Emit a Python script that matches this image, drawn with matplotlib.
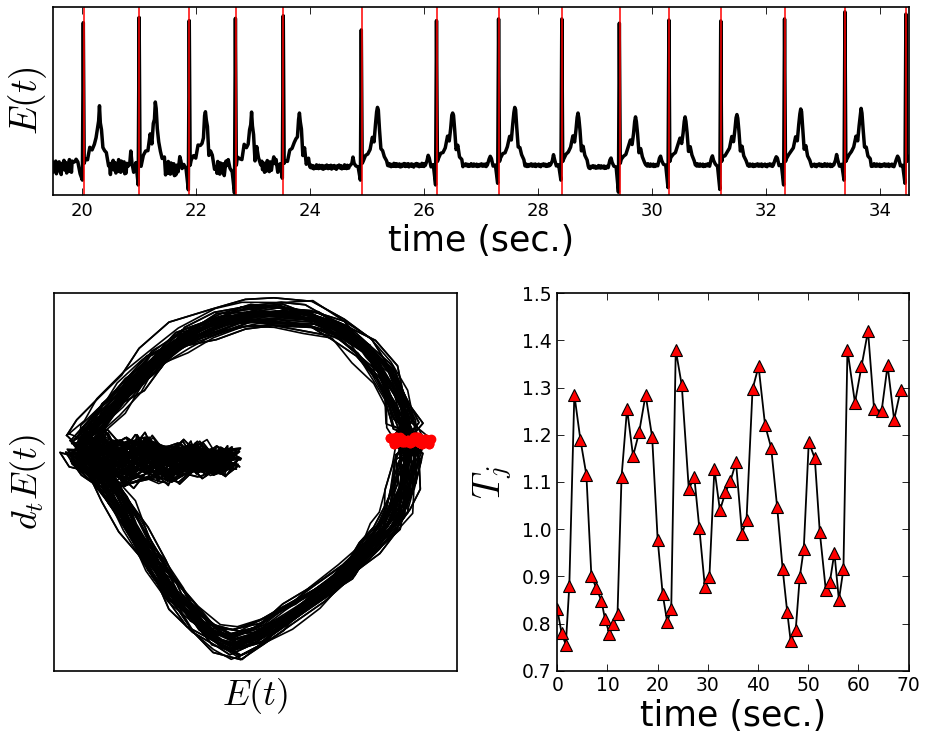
# ECG trace with detected R-peaks, phase portrait and beat intervals
import numpy as np
import matplotlib
matplotlib.use("Agg")
import matplotlib.pyplot as plt

plt.rcParams['mathtext.fontset'] = 'cm'
plt.rcParams['font.family'] = 'DejaVu Sans'

# ---- top panel: beats ----
beat_times = [20.02, 21.00, 21.88, 22.69, 23.53, 24.90, 26.22, 27.31,
              28.42, 29.43, 30.30, 31.21, 32.33, 33.39, 34.46]
r_peak = [0.915, 0.943, 0.926, 0.938, 0.952, 0.876, 0.926, 0.935,
          0.935, 0.912, 0.929, 0.924, 0.935, 0.973, 0.961]
t_peak = [0.437, 0.469, 0.425, 0.407, 0.416, 0.464, 0.439, 0.465,
          0.430, 0.407, 0.407, 0.425, 0.455, 0.451, 0.440]
q_dip = [0.07, 0.044, 0.018, 0.0, 0.08, 0.07, 0.044, 0.053,
         0.07, 0.005, 0.03, 0.02, 0.044, 0.07, 0.053]
base = [0.14, 0.14, 0.13, 0.13, 0.14, 0.14, 0.15, 0.15,
        0.15, 0.14, 0.15, 0.15, 0.15, 0.15, 0.15]
noise_amp = [0.04, 0.04, 0.04, 0.04, 0.035, 0.012, 0.01, 0.008,
             0.008, 0.008, 0.008, 0.008, 0.008, 0.008, 0.008]
noise = [0.3, -0.8, 0.5, 0.1, -0.4, 0.9, -0.2, -0.7, 0.6, 0.0, -0.5, 0.8,
         -0.9, 0.2, 0.4, -0.3, 0.7, -0.6, 0.1, -1.0, 0.5, 0.3, -0.2, 0.9,
         -0.4, -0.1, 0.6, -0.8, 0.2, 0.0, -0.6, 1.0, -0.3, 0.4, -0.7, 0.8,
         -0.1, -0.5, 0.3, 0.7, -0.9]

# ---- bottom right: beat intervals ----
tj_time = [0.0, 0.86, 1.7, 2.4, 3.4, 4.6, 5.8, 6.8, 7.8, 8.8, 9.5, 10.4,
           11.2, 12.0, 12.8, 13.9, 15.1, 16.3, 17.6, 18.9, 20.0, 21.0,
           21.9, 22.7, 23.6, 24.8, 26.2, 27.3, 28.3, 29.4, 30.3, 31.3,
           32.4, 33.5, 34.5, 35.6, 36.8, 37.7, 38.9, 40.1, 41.4, 42.6,
           43.8, 44.9, 45.8, 46.5, 47.5, 48.3, 49.1, 50.1, 51.3, 52.3,
           53.5, 54.3, 55.2, 56.1, 57.0, 57.8, 59.3, 60.6, 61.9, 63.1,
           64.6, 65.8, 67.1, 68.4]
tj_val = [0.83, 0.78, 0.755, 0.88, 1.285, 1.19, 1.115, 0.90, 0.875, 0.848,
          0.81, 0.778, 0.80, 0.82, 1.11, 1.255, 1.155, 1.205, 1.285, 1.195,
          0.978, 0.862, 0.803, 0.83, 1.38, 1.305, 1.085, 1.11, 1.002, 0.878,
          0.898, 1.128, 1.04, 1.078, 1.102, 1.142, 0.99, 1.02, 1.297, 1.345,
          1.22, 1.173, 1.047, 0.915, 0.825, 0.762, 0.787, 0.898, 0.958,
          1.185, 1.15, 0.993, 0.87, 0.888, 0.95, 0.85, 0.915, 1.38, 1.268,
          1.345, 1.42, 1.255, 1.25, 1.347, 1.232, 1.295]

# ---- bottom left: band centre line of the phase loop ----
loop_x = [0.075, 0.10, 0.14, 0.19, 0.25, 0.32, 0.40, 0.48, 0.56, 0.64,
          0.71, 0.77, 0.82, 0.852, 0.872, 0.885, 0.878, 0.868, 0.852, 0.825,
          0.785, 0.73, 0.66, 0.58, 0.51, 0.45, 0.40, 0.35, 0.30, 0.25,
          0.20, 0.16, 0.12, 0.085, 0.065]
loop_y = [0.60, 0.645, 0.695, 0.755, 0.822, 0.878, 0.918, 0.940, 0.945,
          0.934, 0.903, 0.855, 0.79, 0.715, 0.655, 0.61, 0.56, 0.49, 0.43,
          0.38, 0.33, 0.265, 0.205, 0.145, 0.098, 0.072, 0.092, 0.14, 0.20,
          0.28, 0.37, 0.45, 0.51, 0.54, 0.57]
r_index = 15
tail_x = [0.12, 0.17, 0.22, 0.27, 0.32, 0.37, 0.41, 0.445, 0.41, 0.36,
          0.30, 0.24, 0.18, 0.12]
tail_y = [0.56, 0.55, 0.57, 0.545, 0.565, 0.55, 0.56, 0.565, 0.55, 0.57,
          0.545, 0.565, 0.55, 0.57]

# build the ECG trace
t_pts, e_pts = [], []
k = 0
def add(t, v, amp):
    global k
    t_pts.append(t)
    e_pts.append(v + amp * noise[k % len(noise)])
    k += 1

p_off = [-0.20, -0.17, -0.15, -0.13, -0.10, -0.06]
p_val = [0.0, 0.03, 0.05, 0.03, 0.0, 0.0]
st_off = [0.03, 0.07, 0.11, 0.15, 0.19, 0.22, 0.245, 0.265, 0.28, 0.295,
          0.315, 0.34, 0.37, 0.40, 0.44]
for j, tb in enumerate(beat_times):
    b, a = base[j], noise_amp[j]
    start = beat_times[j - 1] + 0.46 if j > 0 else 19.40
    for tt in np.arange(start, tb - 0.21, 0.012):
        add(tt, b, a)
    for o, v in zip(p_off, p_val):
        add(tb + o, b + v, a)
    add(tb - 0.02, q_dip[j], 0)
    add(tb - 0.004, r_peak[j], 0)
    add(tb + 0.012, b + 0.02, 0)
    T = t_peak[j]
    h = T - b
    st_val = [b + 0.04, b + 0.055, b + 0.07, b + 0.1, b + 0.15,
              b + 0.45 * h, b + 0.7 * h, b + 0.9 * h, T, b + 0.92 * h,
              b + 0.65 * h, b + 0.3 * h, b + 0.1, b + 0.05, b + 0.03]
    for o, v in zip(st_off, st_val):
        add(tb + o, v, a)
for tt in np.arange(beat_times[-1] + 0.46, 34.6, 0.012):
    add(tt, base[-1], noise_amp[-1])

fig = plt.figure(figsize=(9.26, 7.35), dpi=100)
fig.patch.set_facecolor('white')

ax1 = fig.add_axes([0.0576, 0.7347, 0.924, 0.256])
ax1.plot(t_pts, e_pts, color='black', lw=2.5)
for tb in beat_times:
    ax1.axvline(tb, color='red', lw=1.1)
ax1.set_xlim(19.49, 34.51)
ax1.set_ylim(-0.01, 1.0)
ax1.set_xticks(range(20, 35, 2))
ax1.set_yticks([])
ax1.tick_params(axis='x', direction='in', top=True, length=5, width=0.6,
                labelsize=13, pad=5)
ax1.set_xlabel('time (sec.)', fontsize=25, labelpad=3)
ax1.set_ylabel(r'$E(t)$', fontsize=27, labelpad=3)

ax2 = fig.add_axes([0.0583, 0.0875, 0.4349, 0.5135])
rx, ry = [], []
for j in range(len(tj_val)):
    xs, ys = [], []
    sx = 0.08 * noise[(j * 7) % len(noise)]
    sy = 0.07 * noise[(j * 5 + 3) % len(noise)]
    ox = 0.012 * noise[(j * 29 + 4) % len(noise)]
    oy = 0.012 * noise[(j * 31 + 9) % len(noise)]
    for i in range(len(loop_x)):
        jx = 0.012 * noise[(j * 3 + i * 7) % len(noise)]
        jy = 0.012 * noise[(j * 11 + i * 5 + 2) % len(noise)]
        cx = 0.48 + (loop_x[i] - 0.48) * (1 + sx) + ox
        cy = 0.52 + (loop_y[i] - 0.52) * (1 + sy) + oy
        if i == r_index:
            cx = loop_x[i] + 0.05 * noise[(j * 13 + 1) % len(noise)]
            cy = loop_y[i] + 0.01 * noise[(j * 17 + 6) % len(noise)]
            rx.append(cx)
            ry.append(cy)
            xs.append(cx)
            ys.append(cy)
            continue
        xs.append(cx + jx)
        ys.append(cy + jy)
    for i in range(len(tail_x)):
        w = 0.075 * (1 - 0.6 * (tail_x[i] - 0.12) / 0.33)
        xs.append(tail_x[i] + 0.02 * noise[(j * 19 + i * 3 + 5) % len(noise)])
        ys.append(tail_y[i] + w * noise[(j * 23 + i * 13 + 8) % len(noise)])
    xs.append(xs[0])
    ys.append(ys[0])
    ax2.plot(xs, ys, color='black', lw=1.2)
ax2.plot(rx, ry, 'o', color='red', ms=6, mec='red', zorder=5)
ax2.set_xlim(0, 1)
ax2.set_ylim(0, 1)
ax2.set_xticks([])
ax2.set_yticks([])
ax2.set_xlabel(r'$E(t)$', fontsize=26, labelpad=4)
ax2.set_ylabel(r'$d_tE(t)$', fontsize=26, labelpad=4)

ax3 = fig.add_axes([0.6018, 0.0875, 0.3795, 0.5135])
ax3.plot(tj_time, tj_val, '-^', color='black', lw=1.3, ms=8,
         mfc='red', mec='black', mew=0.8)
ax3.set_xlim(0, 70)
ax3.set_ylim(0.7, 1.5)
ax3.set_xticks(range(0, 71, 10))
ax3.set_yticks([0.7, 0.8, 0.9, 1.0, 1.1, 1.2, 1.3, 1.4, 1.5])
ax3.tick_params(direction='in', top=True, right=True, length=5, width=0.6,
                labelsize=13.5, pad=4)
ax3.set_xlabel('time (sec.)', fontsize=25, labelpad=3)
ax3.set_ylabel(r'$T_j$', fontsize=27, labelpad=6)

for ax in (ax1, ax2, ax3):
    for s in ax.spines.values():
        s.set_linewidth(1.2)

fig.savefig('out.png', dpi=100, facecolor='white')
